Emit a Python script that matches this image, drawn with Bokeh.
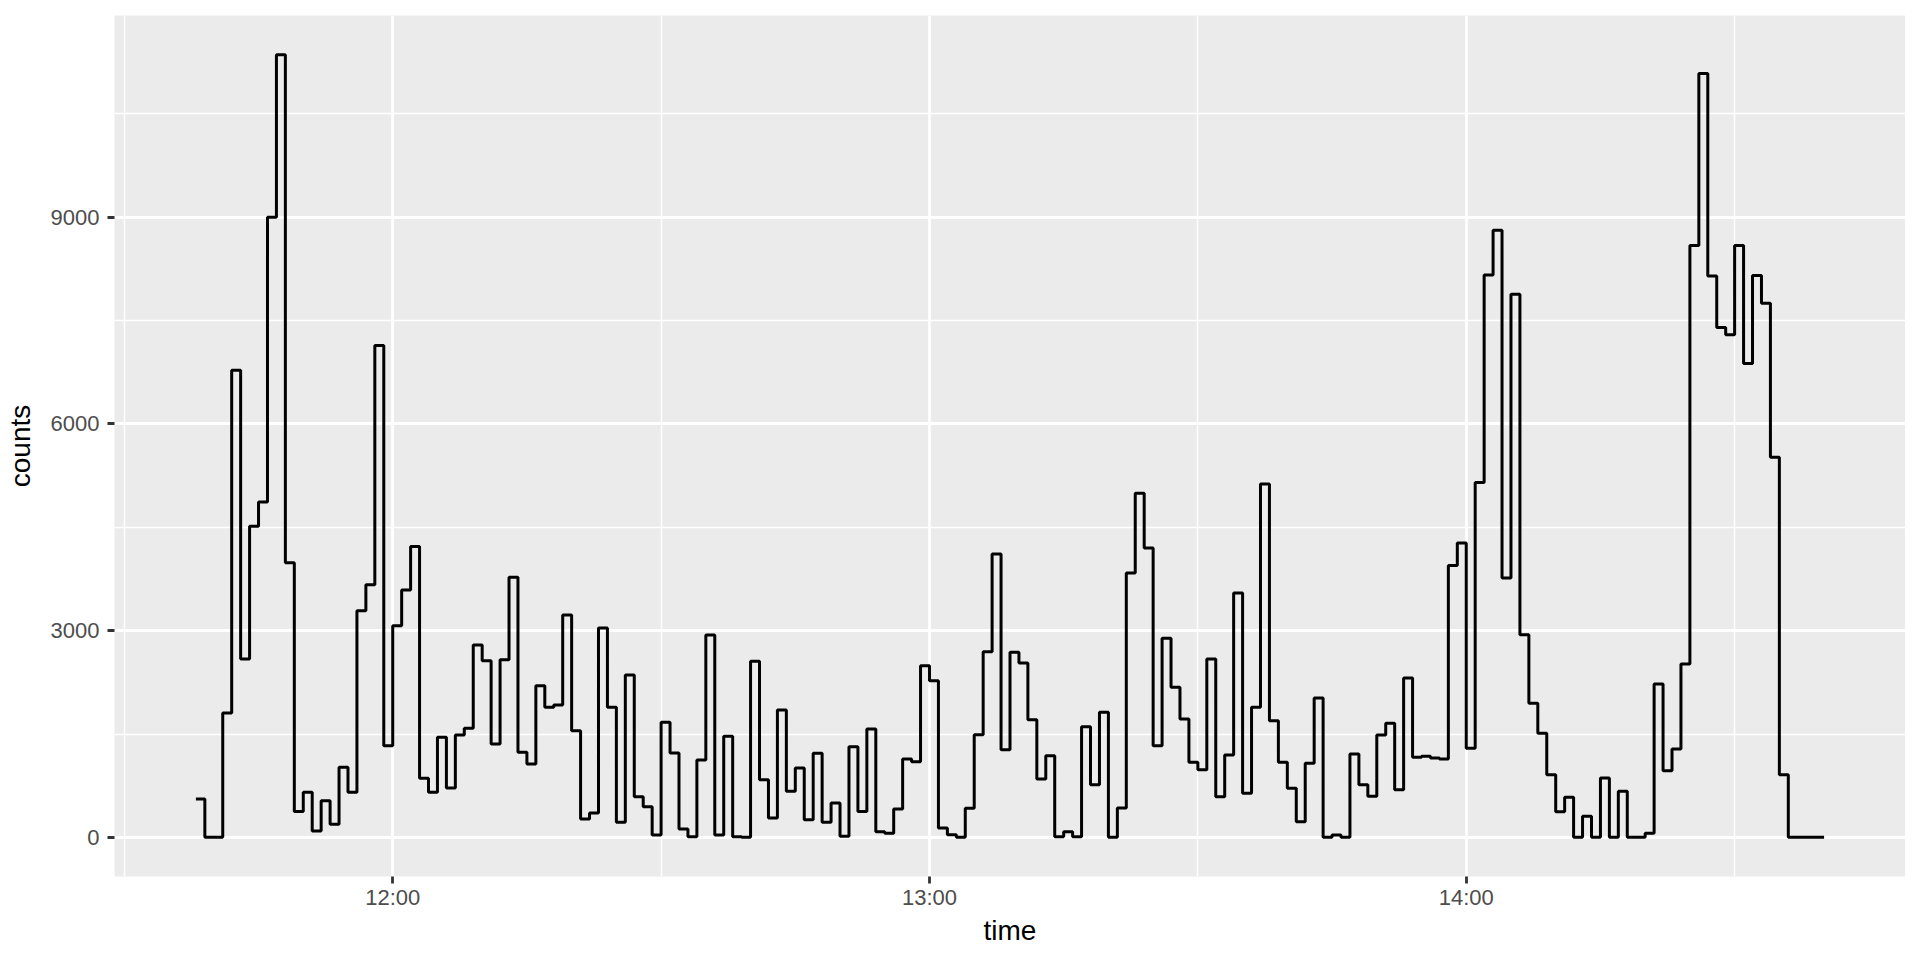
from bokeh.plotting import figure
from bokeh.models import FixedTicker, Range1d
from bokeh.embed import file_html
from bokeh.resources import INLINE

# per-minute counts starting at 11:38
start_minute = 11 * 60 + 38
counts = [
    556, 0, 0, 1805, 6780, 2589, 4515, 4868, 9000, 11360,
    3987, 377, 653, 92, 532, 189, 1016, 653, 3290, 3668,
    7138, 1331, 3073, 3590, 4220, 857, 653, 1452, 716, 1486,
    1582, 2792, 2565, 1355, 2579, 3774, 1234, 1065, 2202, 1887,
    1921, 3228, 1548, 266, 353, 3040, 1887, 218, 2357, 590,
    445, 34, 1669, 1224, 121, 10, 1123, 2937, 34, 1466,
    10, 0, 2555, 837, 281, 1848, 668, 1007, 256, 1219,
    218, 498, 15, 1316, 377, 1573, 82, 58, 411, 1137,
    1098, 2492, 2274, 135, 39, 0, 421, 1490, 2695, 4113,
    1273, 2686, 2531, 1708, 847, 1186, 10, 82, 10, 1607,
    765, 1815, 0, 426, 3837, 4994, 4200, 1331, 2889, 2178,
    1718, 1089, 982, 2589, 590, 1195, 3547, 639, 1887, 5129,
    1694, 1089, 711, 227, 1074, 2023, 0, 34, 0, 1210,
    765, 595, 1486, 1655, 692, 2313, 1161, 1176, 1152, 1137,
    3944, 4273, 1292, 5150, 8161, 8812, 3765, 7881, 2942, 1945,
    1510, 910, 373, 581, 0, 305, 0, 861, 0, 668,
    0, 0, 58, 2226, 968, 1282, 2516, 8590, 11088, 8146,
    7399, 7293, 8590, 6878, 8156, 7751, 5518, 910, 0, 0,
    0, 0, 0,
]
minutes = [start_minute + i for i in range(len(counts))]

x_ticks = [720, 780, 840]
x_tick_labels = ["12:00", "13:00", "14:00"]
x_minor = [690, 750, 810, 870]
y_ticks = [0, 3000, 6000, 9000]
y_minor = [1500, 4500, 7500, 10500]

span_x = minutes[-1] - minutes[0]
span_y = max(counts) - min(counts)

p = figure(
    width=1905, height=950,
    output_backend="svg", toolbar_location=None,
    x_range=Range1d(minutes[0] - 0.05 * span_x, minutes[-1] + 0.05 * span_x),
    y_range=Range1d(min(counts) - 0.05 * span_y, max(counts) + 0.05 * span_y),
    min_border_left=114, min_border_right=0, min_border_top=15, min_border_bottom=74,
)
p.background_fill_color = "#EBEBEB"
p.border_fill_color = "white"
p.outline_line_color = None

p.step(minutes, counts, mode="after", line_color="black", line_width=3.0)

p.xaxis.ticker = FixedTicker(ticks=x_ticks, minor_ticks=x_minor)
p.xaxis.major_label_overrides = {t: l for t, l in zip(x_ticks, x_tick_labels)}
p.yaxis.ticker = FixedTicker(ticks=y_ticks, minor_ticks=y_minor)
p.yaxis.major_label_overrides = {t: str(t) for t in y_ticks}

for ax in (p.xaxis, p.yaxis):
    ax.axis_line_color = None
    ax.major_tick_line_color = "#333333"
    ax.major_tick_line_width = 2.8
    ax.major_tick_out = 7
    ax.major_tick_in = 0
    ax.minor_tick_out = 0
    ax.minor_tick_in = 0
    ax.major_label_text_font = "Liberation Sans"
    ax.major_label_text_font_size = "22px"
    ax.major_label_text_color = "#4D4D4D"
    ax.axis_label_text_font = "Liberation Sans"
    ax.axis_label_text_font_size = "28px"
    ax.axis_label_text_font_style = "normal"
    ax.axis_label_text_color = "black"

p.xaxis.axis_label = "time"
p.yaxis.axis_label = "counts"
p.xaxis.major_label_standoff = 1
p.xaxis.axis_label_standoff = 2
p.yaxis.major_label_standoff = 8
p.yaxis.axis_label_standoff = 12

for g in (p.xgrid, p.ygrid):
    g.grid_line_color = "white"
    g.grid_line_width = 2.8
    g.minor_grid_line_color = "white"
    g.minor_grid_line_width = 1.4

open("out.html", "w").write(file_html(p, INLINE))
